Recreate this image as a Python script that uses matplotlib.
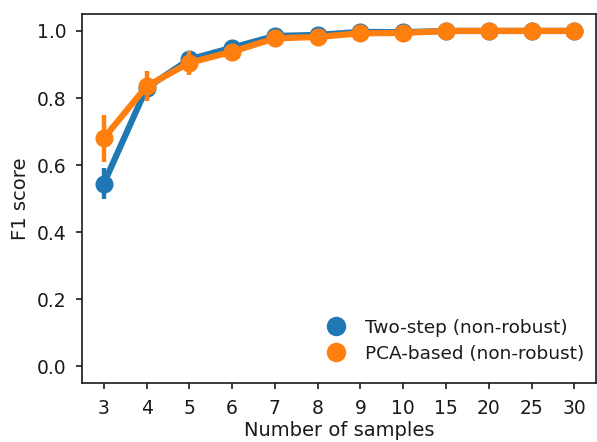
import numpy as np
import matplotlib
matplotlib.use("Agg")
from matplotlib import pyplot as plt
from matplotlib.lines import Line2D

n_samples = ["3", "4", "5", "6", "7", "8", "9", "10", "15", "20", "25", "30"]

two_step = [0.545, 0.830, 0.915, 0.950, 0.985, 0.988, 0.997, 0.996, 1.0, 1.0, 1.0, 1.0]
two_step_lo = [0.500, 0.800, 0.895, 0.935, 0.978, 0.982, 0.993, 0.992, 0.999, 1.0, 1.0, 1.0]
two_step_hi = [0.590, 0.860, 0.935, 0.965, 0.992, 0.994, 1.0, 1.0, 1.0, 1.0, 1.0, 1.0]

pca_based = [0.680, 0.835, 0.905, 0.938, 0.978, 0.982, 0.993, 0.994, 1.0, 1.0, 1.0, 1.0]
pca_lo = [0.610, 0.790, 0.870, 0.910, 0.965, 0.972, 0.986, 0.988, 0.998, 1.0, 1.0, 1.0]
pca_hi = [0.750, 0.880, 0.940, 0.962, 0.990, 0.992, 0.999, 0.999, 1.0, 1.0, 1.0, 1.0]

blue = "#1f77b4"
orange = "#ff7f0e"
text_color = "#1a1a1a"

plt.rcParams["font.family"] = "DejaVu Sans"
plt.rcParams["text.color"] = text_color
plt.rcParams["axes.labelcolor"] = text_color

fig, ax = plt.subplots(figsize=(5.97, 4.42), dpi=100)
fig.subplots_adjust(left=0.138, right=0.998, top=0.968, bottom=0.133)

x = np.arange(len(n_samples))
series = [
    (two_step, two_step_lo, two_step_hi, blue, "Two-step (non-robust)"),
    (pca_based, pca_lo, pca_hi, orange, "PCA-based (non-robust)"),
]
handles = []
for vals, lo, hi, color, label in series:
    ax.vlines(x, lo, hi, color=color, lw=3.2, zorder=3)
    ax.plot(x, vals, color=color, lw=4.5, marker="o", ms=12, zorder=3)
    handles.append(Line2D([], [], color=color, marker="o", ls="", ms=13, label=label))

ax.set_xticks(x)
ax.set_xticklabels(n_samples)
ax.set_xlim(-0.5, len(n_samples) - 0.5)
ax.set_ylim(-0.05, 1.05)
ax.set_yticks([0.0, 0.2, 0.4, 0.6, 0.8, 1.0])
ax.tick_params(labelsize=13.5, length=4.5, width=1.2, colors=text_color, pad=7)
for s in ax.spines.values():
    s.set_linewidth(1.2)
    s.set_color(text_color)

ax.set_xlabel("Number of samples", fontsize=14, labelpad=2)
ax.set_ylabel("F1 score", fontsize=14, labelpad=5)

ax.legend(handles=handles, loc="lower right", bbox_to_anchor=(1.0, 0.025),
          frameon=False, fontsize=13.3, handletextpad=0.6, borderaxespad=0.2,
          labelspacing=0.45)

fig.savefig("out.png", dpi=100)
